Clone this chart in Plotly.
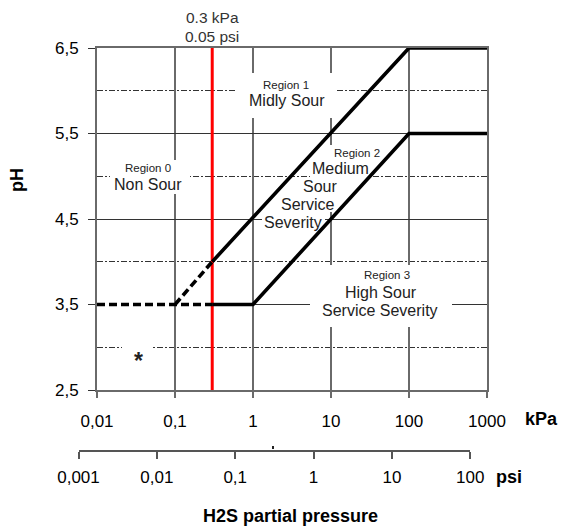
import math
import plotly.graph_objects as go

# ---- data -------------------------------------------------------------
# Upper boundary (Region 0/1 -> Region 2): H2S partial pressure (kPa) vs pH
upper_kpa = [0.1, 0.3, 100, 1000]
upper_ph = [3.5, 4.0, 6.5, 6.5]
# Lower boundary (Region 2 -> Region 3)
lower_kpa = [0.01, 0.3, 1, 100, 1000]
lower_ph = [3.5, 3.5, 3.5, 5.5, 5.5]
# Sour-service threshold
threshold_kpa = 0.3
threshold_label = ["0.3 kPa", "0.05 psi"]

kpa_ticks = [0.01, 0.1, 1, 10, 100, 1000]
kpa_ticktext = ["0,01", "0,1", "1", "10", "100", "1000"]
psi_ticks = [0.001, 0.01, 0.1, 1, 10, 100]
psi_ticktext = ["0,001", "0,01", "0,1", "1", "10", "100"]
ph_ticks = [2.5, 3.5, 4.5, 5.5, 6.5]
ph_ticktext = ["2,5", "3,5", "4,5", "5,5", "6,5"]
ph_minor = [3.0, 4.0, 5.0, 6.0]

# ---- page geometry ----------------------------------------------------
W, H = 567, 526
ML, MR, MT, MB = 70, 80, 48, 40
PW, PH = W - ML - MR, H - MT - MB
X0_PX, X1_PX = 97, 487          # kPa axis extent on the page
Y0_PX, Y1_PX = 390, 48          # pH axis extent on the page
PSI_PX = (78.5, 470.3, 450)     # psi scale: left, right, baseline
LX0, LX1 = math.log10(kpa_ticks[0]), math.log10(kpa_ticks[-1])


def fx(px):
    """page pixel x -> paper fraction"""
    return (px - ML) / PW


def fy(py):
    """page pixel y -> paper fraction"""
    return (H - MB - py) / PH


def kx(px):
    """page pixel x -> kPa value on the main axis"""
    return 10 ** (LX0 + (px - X0_PX) / (X1_PX - X0_PX) * (LX1 - LX0))


def ky(py):
    """page pixel y -> pH value on the main axis"""
    return ph_ticks[0] + (Y0_PX - py) / (Y0_PX - Y1_PX) * (ph_ticks[-1] - ph_ticks[0])


FONT = "Liberation Sans, Arial, sans-serif"
LINE_W = 3.6

fig = go.Figure()

# threshold line
fig.add_trace(go.Scatter(
    x=[threshold_kpa, threshold_kpa], y=[ph_ticks[0], ph_ticks[-1]],
    mode="lines", line=dict(color="#ff0000", width=3),
    hoverinfo="skip", showlegend=False))

# upper boundary: dashed up to the threshold, solid beyond
fig.add_trace(go.Scatter(
    x=upper_kpa[:2], y=upper_ph[:2], mode="lines",
    line=dict(color="black", width=LINE_W, dash="8px,4px"),
    hoverinfo="skip", showlegend=False))
fig.add_trace(go.Scatter(
    x=upper_kpa[1:], y=upper_ph[1:], mode="lines",
    line=dict(color="black", width=LINE_W),
    hoverinfo="skip", showlegend=False))

# lower boundary: dashed up to the threshold, solid beyond
fig.add_trace(go.Scatter(
    x=lower_kpa[:2], y=lower_ph[:2], mode="lines",
    line=dict(color="black", width=LINE_W, dash="8px,4px"),
    hoverinfo="skip", showlegend=False))
fig.add_trace(go.Scatter(
    x=lower_kpa[1:], y=lower_ph[1:], mode="lines",
    line=dict(color="black", width=LINE_W),
    hoverinfo="skip", showlegend=False))

# carrier trace for the secondary psi scale (its own thin strip subplot)
fig.add_trace(go.Scatter(
    x=[psi_ticks[0], psi_ticks[-1]], y=[None, None], xaxis="x2", yaxis="y2",
    mode="lines", hoverinfo="skip", showlegend=False))

# ---- white panels behind captions and under the dashed segment --------
panels = [
    (235, 335, 73, 118),    # Region 1
    (110, 190, 160, 194),   # Region 0
    (310, 452, 265, 327),   # Region 3
    (330, 386, 145, 160),   # Region 2 heading
    (310, 372, 160, 177),   # Medium
    (300, 340, 177, 195),   # Sour
    (280, 336, 195, 212),   # Service
    (262, 325, 212, 230),   # Severity
    (122, 152, 344, 368),   # asterisk
    (98, 211, 302, 306),    # under the dashed pH 3.5 run
]
shapes = []
for x0, x1, y0, y1 in panels:
    shapes.append(dict(
        type="rect", xref="x", yref="y",
        x0=kx(x0), x1=kx(x1), y0=ky(y1), y1=ky(y0),
        fillcolor="white", line=dict(width=0), layer="between"))
# small stray tick on the psi scale
shapes.append(dict(
    type="rect", xref="paper", yref="paper",
    x0=fx(272), x1=fx(274), y0=fy(449), y1=fy(446),
    fillcolor="#222", line=dict(width=0), layer="above"))

# ---- captions ---------------------------------------------------------
TXT = "#222222"
ann = []


def cap(text, px, py, size, bold=False, color=TXT, angle=0):
    if bold:
        text = "<b>" + text + "</b>"
    ann.append(dict(
        text=text, xref="paper", yref="paper", x=fx(px), y=fy(py),
        xanchor="center", yanchor="middle", showarrow=False,
        textangle=angle, font=dict(family=FONT, size=size, color=color)))


# threshold labels, placed over the threshold line
for i, t in enumerate(threshold_label):
    ann.append(dict(
        text=t, xref="x", yref="paper", x=math.log10(threshold_kpa),
        y=fy(18 + 19 * i), xanchor="center", yanchor="middle",
        showarrow=False, font=dict(family=FONT, size=15.5, color="#333")))

cap("Region 1", 286, 85, 11.5)
cap("Midly Sour", 287, 100, 16)
cap("Region 0", 148, 168, 11.5)
cap("Non Sour", 148, 184, 16)
cap("Region 2", 357, 153, 11.5)
cap("Medium", 340, 168, 16)
cap("Sour", 320, 186, 16)
cap("Service", 307, 204, 16)
cap("Severity", 293, 222, 16)
cap("Region 3", 387, 275, 11.5)
cap("High Sour", 381, 292, 16)
cap("Service Severity", 380, 310, 16)
cap("*", 138, 361, 23, bold=True)

cap("pH", 17, 180, 18, bold=True, color="black", angle=-90)
cap("kPa", 541, 419, 18, bold=True, color="black")
cap("psi", 509, 477, 18, bold=True, color="black")
cap("H2S partial pressure", 290, 516, 18, bold=True, color="black")

GRID_X = "#6a6a6a"

fig.update_layout(
    width=W, height=H,
    margin=dict(l=ML, r=MR, t=MT, b=MB, pad=0),
    paper_bgcolor="white", plot_bgcolor="white",
    font=dict(family=FONT, color="black"),
    showlegend=False,
    xaxis=dict(
        type="log", range=[LX0, LX1],
        domain=[fx(X0_PX), fx(X1_PX)], anchor="y",
        tickmode="array", tickvals=kpa_ticks, ticktext=kpa_ticktext,
        ticks="outside", ticklen=6, tickwidth=1.5, tickcolor=GRID_X,
        tickfont=dict(family=FONT, size=17, color="black"),
        ticklabelstandoff=9,
        showgrid=True, gridcolor=GRID_X, gridwidth=2,
        showline=True, linecolor=GRID_X, linewidth=2, mirror=True,
        zeroline=False, fixedrange=True,
    ),
    yaxis=dict(
        range=[ph_ticks[0], ph_ticks[-1]],
        domain=[fy(Y0_PX), fy(Y1_PX)], anchor="x",
        tickmode="array", tickvals=ph_ticks, ticktext=ph_ticktext,
        ticks="outside", ticklen=7, tickwidth=1.2, tickcolor="#333",
        tickfont=dict(family=FONT, size=17, color="black"),
        ticklabelstandoff=6,
        showgrid=True, gridcolor="#333", gridwidth=1,
        minor=dict(tickvals=ph_minor, showgrid=True,
                   gridcolor="#333", gridwidth=1,
                   griddash="6px,2px,2px,2px", ticks=""),
        showline=True, linecolor=GRID_X, linewidth=2, mirror=True,
        zeroline=False, fixedrange=True,
    ),
    xaxis2=dict(
        type="log", range=[math.log10(psi_ticks[0]), math.log10(psi_ticks[-1])],
        domain=[fx(PSI_PX[0]), fx(PSI_PX[1])], anchor="y2", side="bottom",
        tickmode="array", tickvals=psi_ticks, ticktext=psi_ticktext,
        ticks="outside", ticklen=7, tickwidth=1.5, tickcolor="#555",
        tickfont=dict(family=FONT, size=17, color="black"),
        ticklabelstandoff=4,
        showgrid=False, showline=True, linecolor="#555", linewidth=1.5,
        zeroline=False, fixedrange=True,
    ),
    yaxis2=dict(domain=[fy(PSI_PX[2]), fy(PSI_PX[2] - 6)], anchor="x2",
                range=[0, 1], fixedrange=True,
                showline=False, showgrid=False, zeroline=False,
                showticklabels=False, ticks=""),
    shapes=shapes,
    annotations=ann,
)

fig.write_html("out.html", config={"displayModeBar": False})
